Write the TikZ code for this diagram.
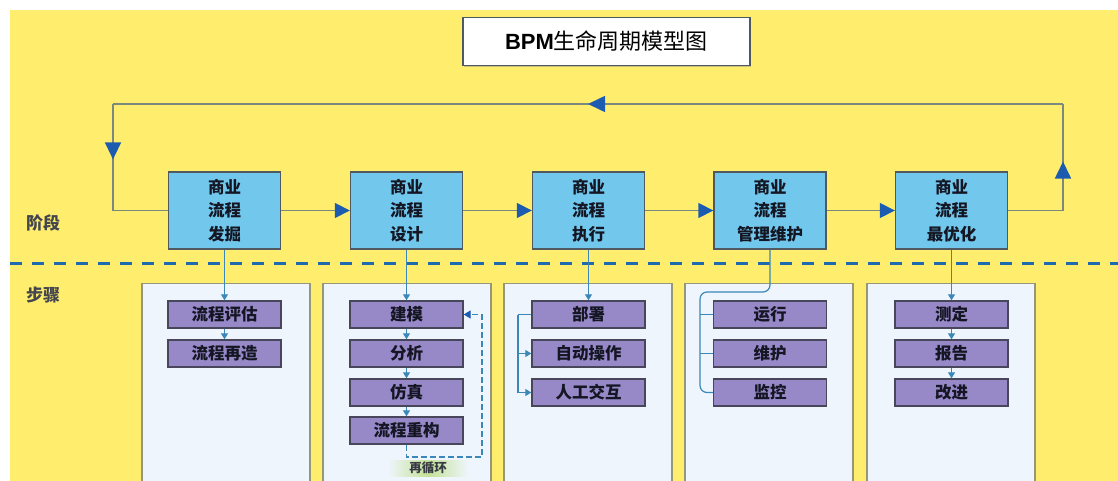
\documentclass[tikz,border=0pt]{standalone}
\usepackage{fontspec}
\setmainfont{Noto Sans CJK SC}
\newfontfamily\latinb{Liberation Sans}
\usetikzlibrary{arrows.meta,decorations.markings,shadows}
\definecolor{bgyellow}{RGB}{255,238,110}
\definecolor{stagefill}{RGB}{113,199,236}
\definecolor{stageedge}{RGB}{80,88,96}
\definecolor{purplefill}{RGB}{151,136,200}
\definecolor{purpleedge}{RGB}{72,70,90}
\definecolor{panelfill}{RGB}{238,245,252}
\definecolor{paneledge}{RGB}{150,150,120}
\definecolor{loopgray}{RGB}{122,136,126}
\definecolor{arrowblue}{RGB}{28,92,176}
\definecolor{stepblue}{RGB}{58,135,184}
\definecolor{dashblue}{RGB}{30,106,174}
\definecolor{txtdark}{RGB}{20,22,35}
\definecolor{loopgreen}{RGB}{196,226,150}
\tikzset{
  titlebox/.style={draw=stageedge, line width=1.5pt, fill=white, minimum width=287pt, minimum height=48pt, inner sep=0pt,
    drop shadow={shadow xshift=1pt, shadow yshift=-1.5pt, opacity=0.4}},
  stage/.style={draw=stageedge, line width=1.4pt, fill=stagefill, minimum width=112pt, minimum height=77pt, inner sep=0pt,
    align=center, font=\fontsize{16.5}{23.5}\selectfont\bfseries, text=txtdark},
  stepbox/.style={draw=purpleedge, line width=1.4pt, fill=purplefill, minimum width=113pt, minimum height=27pt, inner sep=0pt,
    font=\fontsize{16.5}{18}\selectfont\bfseries, text=txtdark},
  panel/.style={draw=paneledge, line width=1.2pt, fill=panelfill, minimum width=168pt, minimum height=215pt, inner sep=0pt, anchor=north},
  sidelabel/.style={font=\fontsize{17}{19}\selectfont\bfseries, text=txtdark!80},
  loopline/.style={draw=loopgray, line width=1.6pt},
  stagearrow/.style={loopline, -{Triangle[length=15pt,width=15pt,color=arrowblue]}},
  midarrow/.style={postaction={decorate, decoration={markings,
     mark=at position #1 with {\arrow{Triangle[length=17pt,width=16pt,color=arrowblue]}}}}},
  stepline/.style={draw=stepblue, line width=1.2pt},
  steparrow/.style={stepline, -{Triangle[length=6pt,width=7pt]}},
  loopdash/.style={draw=stepblue, line width=1.4pt, dash pattern=on 6pt off 3pt, -{Triangle[length=7pt,width=8pt,color=arrowblue]}},
}
\begin{document}
\begin{tikzpicture}[x=1pt,y=-1pt]
\useasboundingbox (0,0) rectangle (1118,481);
\clip (0,0) rectangle (1118,481);
\fill[white] (0,0) rectangle (1118,481);
\fill[bgyellow] (10,10) rectangle (1118,481);

% title
\node[titlebox] (title) at (606.5,41.5) {\fontsize{22}{24}\selectfont{\latinb\bfseries BPM}生命周期模型图};

% side labels
\node[sidelabel] (lstage) at (43,223) {阶段};
\node[sidelabel] (lstep) at (43,295) {步骤};

% panels
\node[panel] (p1) at (226,283) {};
\node[panel] (p2) at (407,283) {};
\node[panel] (p3) at (588,283) {};
\node[panel] (p4) at (769,283) {};
\node[panel] (p5) at (951,283) {};

% dashed separator
\coordinate (dl) at (10,263);
\coordinate (dr) at (1118,263);
\draw[dashblue, line width=3pt, dash pattern=on 12pt off 10pt] (dl) -- (dr);

% stage boxes
\node[stage] (s1) at (224.5,210.5) {商业\\流程\\发掘};
\node[stage] (s2) at (406.5,210.5) {商业\\流程\\设计};
\node[stage] (s3) at (588.5,210.5) {商业\\流程\\执行};
\node[stage] (s4) at (770,210.5) {商业\\流程\\管理维护};
\node[stage] (s5) at (951.5,210.5) {商业\\流程\\最优化};

% loop
\coordinate (lA) at (1063,210.5);
\coordinate (lB) at (1063,104);
\coordinate (lC) at (113,104);
\coordinate (lD) at (113,210.5);
\draw[loopline] (s5.east) -- (lA);
\draw[loopline, midarrow=0.46] (lA) -- (lB);
\draw[loopline, midarrow=0.5] (lB) -- (lC);
\draw[loopline, midarrow=0.52] (lC) -- (lD);
\draw[loopline] (lD) -- (s1.west);
\draw[stagearrow] (s1.east) -- (s2.west);
\draw[stagearrow] (s2.east) -- (s3.west);
\draw[stagearrow] (s3.east) -- (s4.west);
\draw[stagearrow] (s4.east) -- (s5.west);

% step boxes
\node[stepbox] (a1) at (224.5,314.5) {流程评估};
\node[stepbox] (a2) at (224.5,353.5) {流程再造};

\node[stepbox] (m1) at (406.5,314.5) {建模};
\node[stepbox] (m2) at (406.5,353.5) {分析};
\node[stepbox] (m3) at (406.5,392.5) {仿真};
\node[stepbox] (m4) at (406.5,430.5) {流程重构};

\node[stepbox] (b1) at (588.5,314.5) {部署};
\node[stepbox] (b2) at (588.5,353.5) {自动操作};
\node[stepbox] (b3) at (588.5,392.5) {人工交互};

\node[stepbox] (d1) at (770,314.5) {运行};
\node[stepbox] (d2) at (770,353.5) {维护};
\node[stepbox] (d3) at (770,392.5) {监控};

\node[stepbox] (e1) at (951.5,314.5) {测定};
\node[stepbox] (e2) at (951.5,353.5) {报告};
\node[stepbox] (e3) at (951.5,392.5) {改进};

% step connectors
\draw[steparrow] (s1.south) -- (a1.north);
\draw[steparrow] (a1.south) -- (a2.north);

\draw[steparrow] (s2.south) -- (m1.north);
\draw[steparrow] (m1.south) -- (m2.north);
\draw[steparrow] (m2.south) -- (m3.north);
\draw[steparrow] (m3.south) -- (m4.north);

\draw[steparrow] (s3.south) -- (b1.north);
\coordinate (bx) at (518,314.5);
\draw[stepline] (b1.west) -- (bx);
\draw[steparrow] (bx) |- (b2.west);
\draw[steparrow] (bx) |- (b3.west);

\coordinate (k4) at (700,292);
\draw[stepline, rounded corners=7pt] (s4.south) |- (k4) |- (d3.west);
\draw[stepline] (k4|-d1.west) -- (d1.west);
\draw[stepline] (k4|-d2.west) -- (d2.west);

\draw[steparrow] (s5.south) -- (e1.north);
\draw[steparrow] (e1.south) -- (e2.north);
\draw[steparrow] (e2.south) -- (e3.north);

% re-cycle loop
\coordinate (rl) at (482,457);
\draw[loopdash] (m4.south) |- (rl) |- (m1.east);
\node[font=\fontsize{12.5}{14}\selectfont\bfseries, text=txtdark!85, left color=panelfill, right color=panelfill, middle color=loopgreen,
  minimum width=80pt, minimum height=16pt, inner sep=0pt] (rc) at (428,468) {再循环};
\end{tikzpicture}
\end{document}
